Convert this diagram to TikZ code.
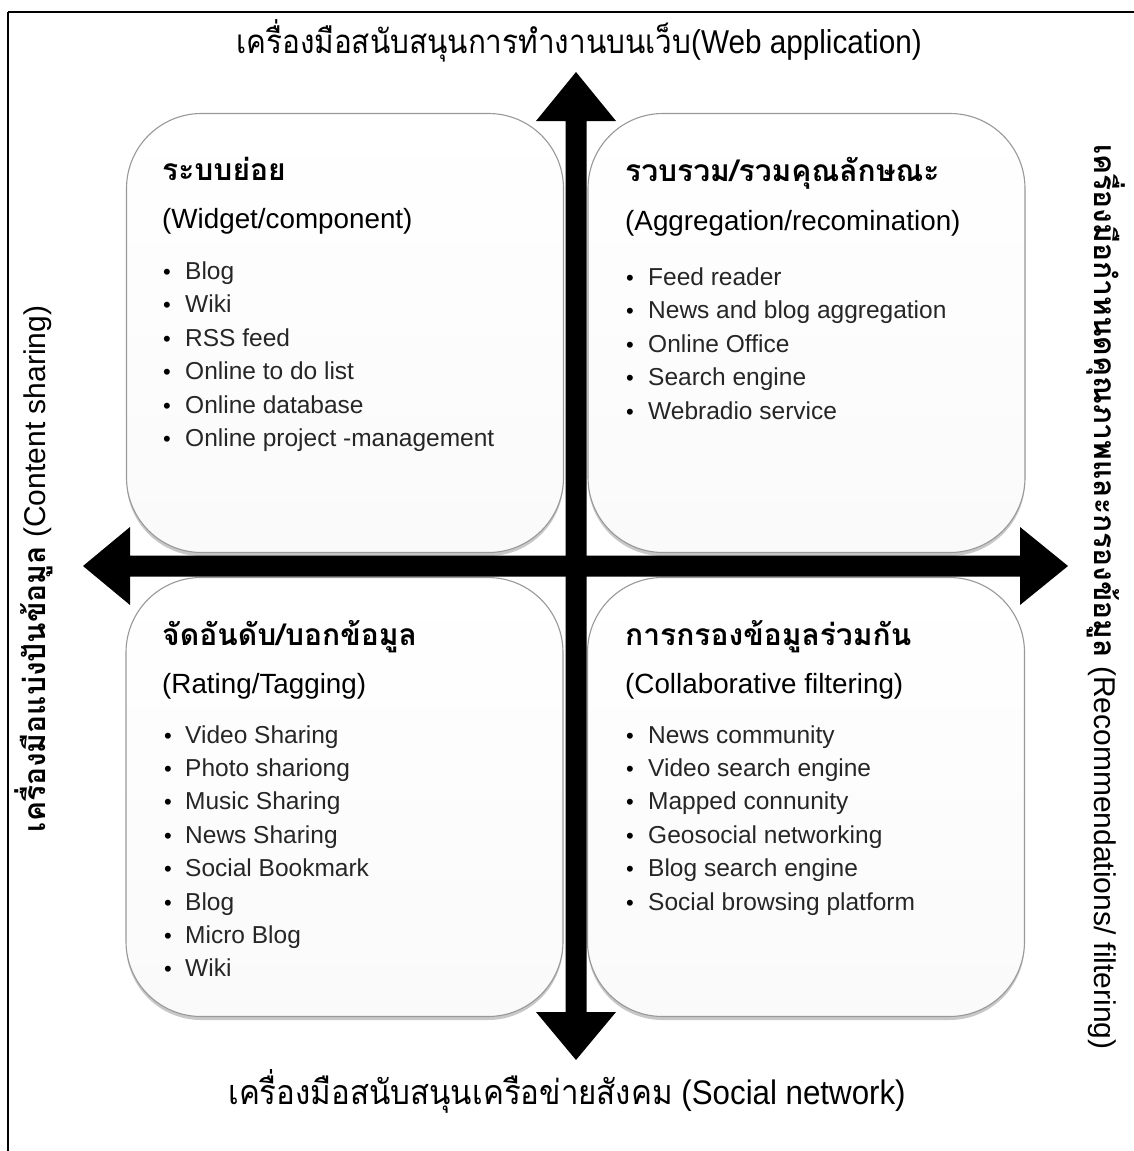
\documentclass[tikz,border=0pt]{standalone}
\usepackage{fontspec}
\setmainfont{Liberation Sans}
\newfontfamily\thai[Script=Thai]{Loma}
\usetikzlibrary{shadows}
\begin{document}
\begin{tikzpicture}[x=1pt,y=-1pt,
  quad/.style={draw=black!40, line width=1.1pt, rounded corners=75pt,
    top color=white, bottom color=black!2,
    minimum width=437pt, minimum height=439pt, inner sep=0pt,
    drop shadow={shadow xshift=0pt, shadow yshift=-3.5pt, opacity=0.3, fill=black!70}},
  ttl/.style={anchor=base west, inner sep=0pt, font=\thai\bfseries\fontsize{30}{34}\selectfont},
  sub/.style={anchor=base west, inner sep=0pt, font=\fontsize{27.8}{32}\selectfont},
  itm/.style={anchor=base west, inner sep=0pt, font=\fontsize{24.5}{28}\selectfont, text=black!85},
  bul/.style={anchor=base, inner sep=0pt, font=\fontsize{22}{28}\selectfont},
  axis/.style={inner sep=0pt, anchor=base},
  bigarrow/.style={fill=black, draw=none}
]
\useasboundingbox (0,0) rectangle (1134,1151);
\fill[white] (0,0) rectangle (1134,1151);

% outer frame (top and left edges)
\draw[line width=2.4pt] (8,12) -- (1134,12);
\draw[line width=2.4pt] (8,12) -- (8,1151);

% four quadrant panels
\node[quad] (tl) at (345,333) {};
\node[quad] (tr) at (806.5,333) {};
\node[quad] (bl) at (344.5,797) {};
\node[quad] (br) at (806,797) {};

% double-headed axes
\fill[bigarrow] (576,72) -- (616,121) -- (586.5,121) -- (586.5,1012) -- (616,1012)
  -- (576,1060) -- (536,1012) -- (565.5,1012) -- (565.5,121) -- (536,121) -- cycle;
\fill[bigarrow] (83,566) -- (130,527) -- (130,555.5) -- (1020,555.5) -- (1020,527)
  -- (1068,566) -- (1020,605) -- (1020,576.5) -- (130,576.5) -- (130,605) -- cycle;

% axis captions
\node[axis] (top) at (579,53) {\fontsize{33}{36}\selectfont\scalebox{0.9}[1]{{\thai เครื่องมือสนับสนุนการทำงานบนเว็บ}(Web application)}};
\node[axis] (bottom) at (567,1104) {\fontsize{34}{38}\selectfont\scalebox{0.92}[1]{{\thai เครื่องมือสนับสนุนเครือข่ายสังคม} (Social network)}};
\node[axis, rotate=90] (left) at (45,569) {\fontsize{30}{34}\selectfont{\thai\bfseries เครื่องมือแบ่งปันข้อมูล} (Content sharing)};
\node[axis, rotate=-90] (right) at (1094,597) {\fontsize{30}{34}\selectfont{\thai\bfseries เครื่องมือกำหนดคุณภาพและกรองข้อมูล} (Recommendations/ filtering)};

% top-left panel
\node[ttl] (tlt) at (162,180) {ระบบย่อย};
\node[sub] (tls) at (162,228) {(Widget/component)};
\foreach \t [count=\i from 0] in {Blog, Wiki, RSS feed, Online to do list, Online database, Online project -management}{
  \node[bul] (tlb\i) at (167,279+33.5*\i) {\textbullet};
  \node[itm] (tli\i) at (185,279+33.5*\i) {\t};
}

% top-right panel
\node[ttl] (trt) at (625,181) {รวบรวม/รวมคุณลักษณะ};
\node[sub] (trs) at (625,230) {(Aggregation/recomination)};
\foreach \t [count=\i from 0] in {Feed reader, News and blog aggregation, Online Office, Search engine, Webradio service}{
  \node[bul] (trb\i) at (630,285+33.5*\i) {\textbullet};
  \node[itm] (tri\i) at (648,285+33.5*\i) {\t};
}

% bottom-left panel
\node[ttl] (blt) at (162,645) {จัดอันดับ/บอกข้อมูล};
\node[sub] (bls) at (162,693) {(Rating/Tagging)};
\foreach \t [count=\i from 0] in {Video Sharing, Photo shariong, Music Sharing, News Sharing, Social Bookmark, Blog, Micro Blog, Wiki}{
  \node[bul] (blb\i) at (168,743+33.4*\i) {\textbullet};
  \node[itm] (bli\i) at (185,743+33.4*\i) {\t};
}

% bottom-right panel
\node[ttl] (brt) at (625,645) {การกรองข้อมูลร่วมกัน};
\node[sub] (brs) at (625,693) {(Collaborative filtering)};
\foreach \t [count=\i from 0] in {News community, Video search engine, Mapped connunity, Geosocial networking, Blog search engine, Social browsing platform}{
  \node[bul] (brb\i) at (630,743+33.4*\i) {\textbullet};
  \node[itm] (bri\i) at (648,743+33.4*\i) {\t};
}
\end{tikzpicture}
\end{document}
